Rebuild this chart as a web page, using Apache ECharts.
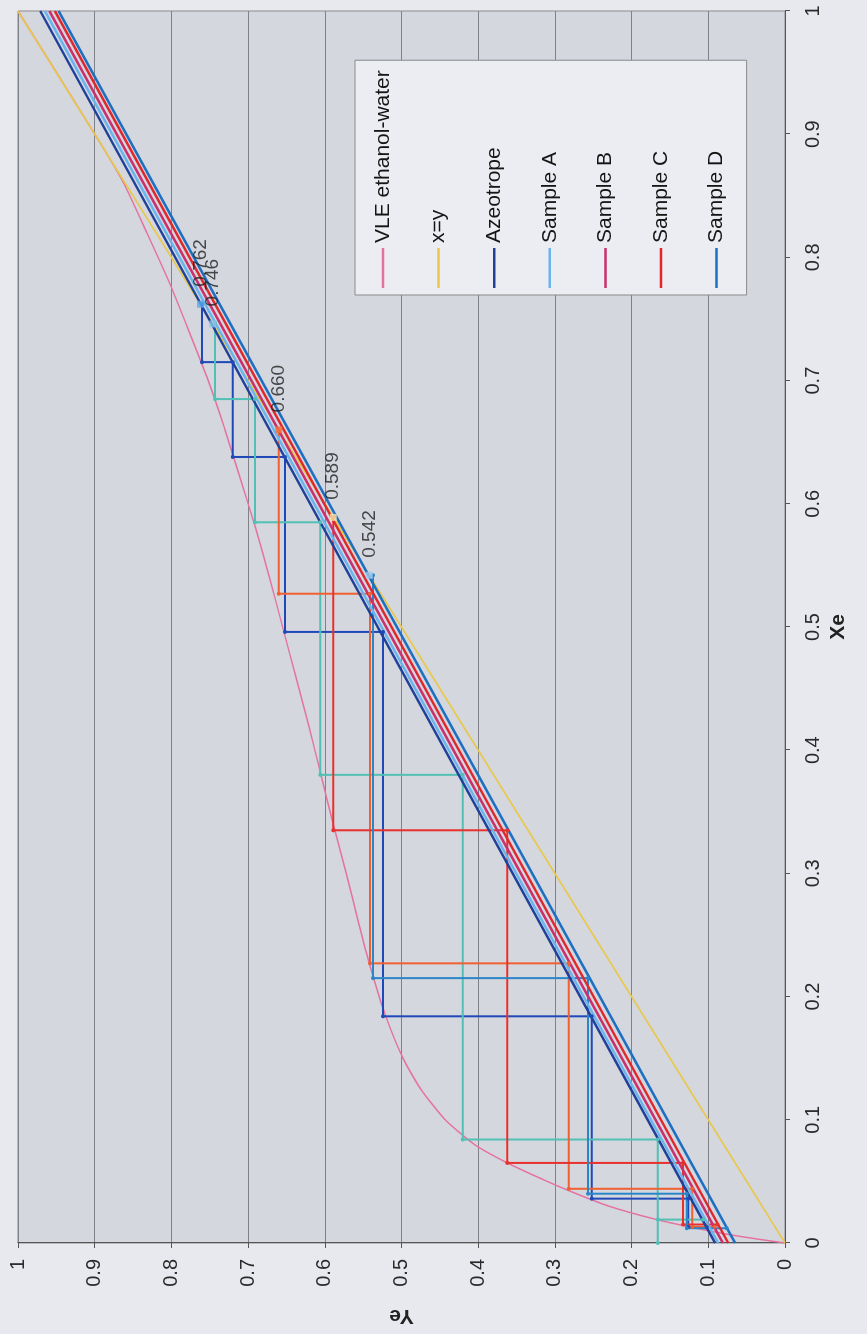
<!DOCTYPE html>
<html>
<head>
<meta charset="utf-8">
<script src="https://cdn.jsdelivr.net/npm/echarts@6/dist/echarts.min.js"></script>
<style>
  html, body { margin: 0; padding: 0; background: #e8e9ef; width: 867px; height: 1334px; overflow: hidden; }
  #chart { position: absolute; left: 0; top: 0; width: 1334px; height: 867px;
           transform-origin: 0 0; transform: translate(0px, 1334px) rotate(-90deg); }
</style>
</head>
<body>
<div id="chart"></div>
<script>
// ---------- data ----------
const tickLabels = ['0','0.1','0.2','0.3','0.4','0.5','0.6','0.7','0.8','0.9','1'];
const legendNames = ['VLE ethanol-water','x=y','Azeotrope','Sample A','Sample B','Sample C','Sample D'];

// VLE ethanol-water equilibrium curve (Xe, Ye)
const vleX = [0,0.005,0.01,0.019,0.03,0.04,0.05,0.065,0.08,0.10,0.125,0.15,0.185,0.225,0.26,0.30,0.34,0.38,0.42,0.46,0.50,0.54,0.58,0.62,0.66,0.70,0.74,0.78,0.82,0.86,0.894,1];
const vleY = [0,0.055,0.10,0.167,0.230,0.272,0.310,0.362,0.405,0.443,0.475,0.498,0.521,0.541,0.556,0.572,0.589,0.605,0.621,0.638,0.655,0.672,0.690,0.710,0.730,0.752,0.777,0.803,0.832,0.862,0.894,1];

// x = y
const diagX = [0, 1];
const diagY = [0, 1];

// operating lines: value at Xe=0 and Xe=1
const opX = [0, 1];
const azeoY = [0.091, 0.971];
const sampleAY = [0.087, 0.965];
const sampleBY = [0.081, 0.959];
const sampleCY = [0.074, 0.952];
const sampleDY = [0.065, 0.947];

// stage-stepping constructions
const stepAzeoX = [0.762,0.715,0.715,0.638,0.638,0.496,0.496,0.184,0.184,0.036,0.036,0.013,0.013];
const stepAzeoY = [0.760,0.760,0.720,0.720,0.652,0.652,0.524,0.524,0.252,0.252,0.126,0.126,0.102];
const stepAX = [0.747,0.685,0.685,0.585,0.585,0.380,0.380,0.084,0.084,0.000,0.019,0.019];
const stepAY = [0.743,0.743,0.691,0.691,0.606,0.606,0.420,0.420,0.166,0.166,0.166,0.107];
const stepBX = [0.660,0.527,0.527,0.227,0.227,0.044,0.044,0.013,0.013];
const stepBY = [0.660,0.660,0.541,0.541,0.282,0.282,0.121,0.121,0.092];
const stepCX = [0.589,0.335,0.335,0.065,0.065,0.015,0.015];
const stepCY = [0.589,0.589,0.362,0.362,0.133,0.133,0.088];
const stepDX = [0.542,0.215,0.215,0.040,0.040,0.012,0.012];
const stepDY = [0.537,0.537,0.257,0.257,0.128,0.128,0.076];

// distillate points with labels
const pointX = [0.762, 0.746, 0.660, 0.589, 0.542];
const pointY = [0.762, 0.746, 0.660, 0.589, 0.542];
const pointLabels = ['0.762', '0.746', '0.660', '0.589', '0.542'];

// ---------- styles ----------
const markerColors = ['#5aa8ee', '#8cc4ee', '#f07040', '#f2e6a8', '#9cc8ee'];
const FONT = '"Liberation Sans", Arial, sans-serif';

function pairs(xs, ys) { return xs.map((x, i) => [x, ys[i]]); }

function lineSeries(name, xs, ys, color, width, extra) {
  return Object.assign({
    name: name, type: 'line', data: pairs(xs, ys),
    symbol: 'none', showSymbol: false,
    lineStyle: { color: color, width: width },
    itemStyle: { color: color },
    emphasis: { disabled: true }
  }, extra || {});
}
function stepSeries(name, xs, ys, color) {
  return {
    name: name, type: 'line', data: pairs(xs, ys),
    symbol: 'circle', symbolSize: 4, showSymbol: true,
    lineStyle: { color: color, width: 2 },
    itemStyle: { color: color },
    emphasis: { disabled: true }
  };
}

const axisCommon = {
  type: 'value', min: 0, max: 1, interval: 0.1,
  axisLine: { show: true, lineStyle: { color: '#555', width: 1 } },
  axisTick: { show: true, inside: false, length: 5, lineStyle: { color: '#555' } },
  axisLabel: { fontFamily: FONT, fontSize: 20, color: '#2a2a2a',
               formatter: v => tickLabels[Math.round(v * 10)] },
  nameTextStyle: { fontFamily: FONT, fontSize: 21, fontWeight: 'bold', color: '#222' },
  nameLocation: 'middle'
};

const chart = echarts.init(document.getElementById('chart'));
chart.setOption({
  animation: false,
  backgroundColor: '#e8e9ef',
  grid: { left: 88, right: 11, top: 18, bottom: 82, show: true,
          backgroundColor: '#d5d7df', borderColor: '#8a8a8a', borderWidth: 1 },
  xAxis: Object.assign({}, axisCommon, {
    name: 'Xe', nameGap: 38,
    axisLabel: Object.assign({}, axisCommon.axisLabel, { margin: 18 }),
    splitLine: { show: false }
  }),
  yAxis: Object.assign({}, axisCommon, {
    name: 'Ye', nameGap: 62,
    axisLabel: Object.assign({}, axisCommon.axisLabel, { margin: 16 }),
    splitLine: { show: true, lineStyle: { color: '#80828a', width: 1 } }
  }),
  legend: {
    data: legendNames, orient: 'vertical', left: 1039, top: 355,
    icon: 'rect', itemWidth: 40, itemHeight: 2.5, itemGap: 31.6,
    padding: [16, 10, 18, 7],
    backgroundColor: '#ecedf2', borderColor: '#8a8a8a', borderWidth: 1,
    textStyle: { fontFamily: FONT, fontSize: 21, color: '#151515', lineHeight: 24 },
    selectedMode: false
  },
  series: [
    lineSeries(legendNames[0], vleX, vleY, '#e4739f', 1.5, { smooth: 0.2 }),
    lineSeries(legendNames[1], diagX, diagY, '#e8c84a', 1.5),
    stepSeries('Steps Azeotrope', stepAzeoX, stepAzeoY, '#1f48b8'),
    stepSeries('Steps A', stepAX, stepAY, '#52c0b4'),
    stepSeries('Steps B', stepBX, stepBY, '#f06030'),
    stepSeries('Steps C', stepCX, stepCY, '#e8302c'),
    stepSeries('Steps D', stepDX, stepDY, '#2a86c8'),
    lineSeries(legendNames[2], opX, azeoY, '#20409a', 2.5),
    lineSeries(legendNames[3], opX, sampleAY, '#6ab4ec', 2.5),
    lineSeries(legendNames[4], opX, sampleBY, '#c8306e', 2.5),
    lineSeries(legendNames[5], opX, sampleCY, '#e0282c', 2.5),
    lineSeries(legendNames[6], opX, sampleDY, '#1e6fc0', 2.5),
    {
      name: 'Distillate', type: 'scatter', data: pairs(pointX, pointY),
      symbol: 'rect', symbolSize: 7, z: 5,
      itemStyle: { color: p => markerColors[p.dataIndex] },
      label: { show: true, position: 'right', distance: 14,
               formatter: p => pointLabels[p.dataIndex],
               fontFamily: FONT, fontSize: 19, color: '#222' },
      emphasis: { disabled: true }
    }
  ]
});
</script>
</body>
</html>
